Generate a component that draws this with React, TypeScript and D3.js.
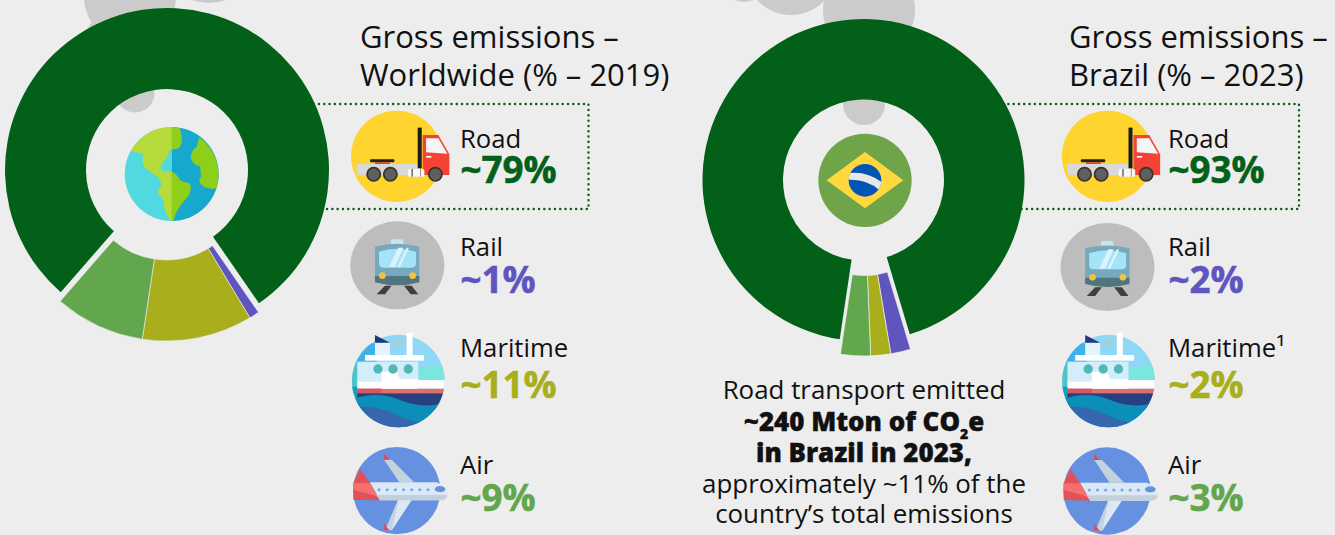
import React from 'react';
import * as d3 from 'd3';

const categories = ['Road', 'Rail', 'Maritime', 'Air'];
const worldValues = [79, 1, 11, 9];
const brazilValues = [93, 2, 2, 3];
const worldLabels = ['~79%', '~1%', '~11%', '~9%'];
const brazilLabels = ['~93%', '~2%', '~2%', '~3%'];
const colors = ['#036019', '#5E55BF', '#A9AF1C', '#62A64D'];
const rowBaselines = [148, 256, 357, 474];
const valueBaselines = [182.5, 292.5, 397.5, 511];
const note = ['Road transport emitted', 'approximately ~11% of the', 'country’s total emissions'];

const BG = '#EDEDED';
const FONT = '"Open Sans", sans-serif';
const SMOKE = '#CBCBCB';

// icons are drawn in 3x units, centred on 0,0
const Icon = ({ x, y, children }: any) => (
  <g transform={`translate(${x},${y}) scale(${1 / 3})`}>{children}</g>
);

const Truck = ({ x, y }: any) => (
  <Icon x={x} y={y}>
    <g transform="translate(-170,-184)">
      <circle cx={170} cy={184} r={137} fill="#FFD42E" />
      <rect x={50} y={207} width={190} height={33} fill="#D9D9D9" />
      <rect x={90} y={193} width={73} height={9} rx={3} fill="#222" />
      <rect x={105} y={202} width={45} height={5} fill="#E53935" />
      <rect x={233} y={98} width={12} height={122} fill="#1C1C1C" />
      <path d="M248,120H295L328,178V240H248Z" fill="#F44336" />
      <path d="M258,130H295L322,176L258,172Z" fill="#F5F5F5" />
      <rect x={258} y={183} width={16} height={5} fill="#F5F5F5" />
      <rect x={204} y={222} width={49} height={23} rx={5} fill="#F7F7F7" />
      <rect x={214} y={222} width={5} height={23} fill="#777" />
      <rect x={240} y={222} width={3} height={23} fill="#999" />
      {[101, 151, 286].map(cx => (
        <circle key={cx} cx={cx} cy={238} r={20} fill="#5F5F5F" stroke="#3A3424" strokeWidth={5} />
      ))}
    </g>
  </Icon>
);

const Train = ({ x, y }: any) => (
  <Icon x={x} y={y}>
    <g transform="translate(-172,-511)">
      <ellipse cx={172} cy={511} rx={141} ry={132} fill="#BDBDBD" />
      <path d="M135,572H155L135,598H110Z" fill="#3F3F3F" />
      <path d="M192,572H215L235,598H212Z" fill="#3F3F3F" />
      <rect x={152} y={433} width={38} height={16} rx={6} fill="#C7E3EE" />
      <path d="M105,455Q172,438 238,455V560Q172,580 105,560Z" fill="#78A8BE" />
      <path d="M105,543H238V562Q172,580 105,562Z" fill="#50757F" />
      <path d="M117,470Q172,452 228,470V505Q228,518 215,518H130Q117,518 117,505Z" fill="#A5E3F8" />
      <path d="M147,516L175,458H190L165,516Z" fill="#DDF3FB" />
      <path d="M172,516L200,458H207L180,516Z" fill="#DDF3FB" />
      <circle cx={127} cy={542} r={10} fill="#F4C23C" />
      <circle cx={218} cy={542} r={10} fill="#F4C23C" />
    </g>
  </Icon>
);

const Ship = ({ x, y, id }: any) => (
  <Icon x={x} y={y}>
    <g transform="translate(-175,-183)">
      <clipPath id={id}>
        <circle cx={175} cy={183} r={139} />
      </clipPath>
      <g clipPath={`url(#${id})`}>
        <rect x={30} y={40} width={290} height={290} fill="#8FD7F7" />
        <path d="M30,130V70L110,70V130Z" fill="#3FB2EA" />
        <path d="M235,145L320,130V185H235Z" fill="#7BE6DF" />
        <path d="M30,130H80V240H30Z" fill="#4CC4C8" />
        <path d="M30,200H60V260H30Z" fill="#1A9CC4" />
        <path d="M52,180H320V206H52Z" fill="#FFFFFF" />
        <path d="M52,206H320V220H52Z" fill="#E2706A" />
        <path d="M52,206H125V220H52Z" fill="#D95560" />
        <path d="M52,220H320V270H52Z" fill="#27407F" />
        <path d="M30,240Q110,210 180,240T320,245V330H30Z" fill="#0B8FB8" />
        <path d="M30,265Q100,250 170,285T320,305V330H30Z" fill="#3566AE" />
      </g>
      <rect x={52} y={125} width={183} height={60} fill="#D3EEFB" />
      <path d="M125,155H170L180,178H235V206H125Z" fill="#FFFFFF" />
      <rect x={75} y={105} width={177} height={17} fill="#FFFFFF" />
      <rect x={105} y={68} width={45} height={37} fill="#E3F4FC" />
      <path d="M105,45L150,68H105Z" fill="#22387A" />
      <path d="M150,78L218,48" stroke="#D9C07E" strokeWidth={4} />
      <rect x={200} y={38} width={18} height={67} fill="#FFFFFF" />
      {[114, 159, 205].map(cx => (
        <circle key={cx} cx={cx} cy={147} r={14} fill="#55B6B8" />
      ))}
    </g>
  </Icon>
);

const Plane = ({ x, y }: any) => (
  <Icon x={x} y={y}>
    <g transform="translate(-170,-513)">
      <circle cx={170} cy={513} r={131} fill="#6690E0" />
      <path d="M132,420H155L222,488H178Z" fill="#C5D2DE" />
      <path d="M132,402L148,420H132Z" fill="#E04A55" />
      <path d="M135,632H155L222,530H178Z" fill="#C5D2DE" />
      <path d="M178,530H222L155,632Z" fill="#DCE8F4" />
      <path d="M132,612L148,632H132Z" fill="#E04A55" />
      <path d="M60,447L40,490V540L120,542L90,490Z" fill="#E2505A" />
      <path d="M40,490H92L112,530L40,510Z" fill="#F66F6F" />
      <path d="M90,488H290Q322,500 322,530Q320,542 300,542H120Z" fill="#DCE8F4" />
      <path d="M108,526H322Q320,542 300,542H120Z" fill="#C3D0DC" />
      <ellipse cx={300} cy={508} rx={16} ry={9} fill="#6690E0" />
      {d3.range(7).map(i => (
        <circle key={i} cx={117 + i * 24.5} cy={510} r={4.5} fill="#6FA5F0" />
      ))}
    </g>
  </Icon>
);

const Globe = ({ x, y }: any) => (
  <Icon x={x} y={y}>
    <g transform="translate(-515,-522)">
      <path d="M515,381A141,141 0 0 0 515,663Z" fill="#52D9E0" />
      <path d="M515,381A141,141 0 0 1 515,663Z" fill="#17A9CD" />
      <path
        d="M392,452Q440,380 515,381V450H508Q505,475 485,490Q480,510 485,513L515,515V663Q490,640 490,600L472,575L485,555Q480,530 450,515Q420,500 430,462Z"
        fill="#B5DC3A"
      />
      <path d="M515,515Q530,520 540,540Q555,550 570,550Q578,580 555,600Q530,625 520,663H515Z" fill="#8ECF1B" />
      <path d="M515,381L538,384Q555,425 535,445L515,450Z" fill="#8ECF1B" />
      <path
        d="M598,412A141,141 0 0 1 650,565Q615,570 600,550Q595,540 603,530L600,498Q575,495 572,470Q575,450 590,440Z"
        fill="#8ECF1B"
      />
    </g>
  </Icon>
);

const Flag = ({ x, y, id }: any) => (
  <Icon x={x} y={y}>
    <g transform="translate(-525,-541)">
      <circle cx={525} cy={541} r={140} fill="#6FA548" />
      <path d="M410,541L525,456L640,541L525,625Z" fill="#FFD83F" />
      <clipPath id={id}>
        <circle cx={525} cy={541} r={49} />
      </clipPath>
      <circle cx={525} cy={541} r={49} fill="#0055B5" />
      <path
        clipPath={`url(#${id})`}
        d="M470,520Q530,510 580,550L570,572Q530,535 470,540Z"
        fill="#E8E8E8"
      />
    </g>
  </Icon>
);

const Donut = ({ cx, cy, r, r0, values, start, dx, dy, sep }: any) => {
  const pie = d3.pie<number>().sort(null).startAngle(start).endAngle(start + 2 * Math.PI);
  const arc = d3.arc<d3.PieArcDatum<number>>().innerRadius(r0).outerRadius(r);
  const slices = pie(values);
  return (
    <g transform={`translate(${cx},${cy})`}>
      <path d={arc(slices[0]) as string} fill={colors[0]} />
      <g transform={`translate(${dx},${dy})`}>
        {slices.slice(1).map((s, i) => (
          <path key={i} d={arc(s) as string} fill={colors[i + 1]} stroke={sep} strokeWidth={0.6} />
        ))}
      </g>
    </g>
  );
};

const Rows = ({ x, labels, names }: any) => (
  <g fontFamily={FONT}>
    {names.map((name: string, i: number) => (
      <g key={name}>
        <text x={x} y={rowBaselines[i]} fontSize={25.7} fill="#111">
          {name}
        </text>
        <text
          x={x + 0.5}
          y={valueBaselines[i]}
          fontSize={36.8}
          fontWeight={700}
          fill={colors[i]}
          stroke={colors[i]}
          strokeWidth={0.5}
        >
          {labels[i]}
        </text>
      </g>
    ))}
  </g>
);

const Smoke = ({ items }: any) => (
  <g fill={SMOKE}>
    {items.map((c: number[], i: number) => (
      <circle key={i} cx={c[0]} cy={c[1]} r={c[2]} />
    ))}
  </g>
);

const DottedBox = ({ x0, x1 }: any) => (
  <path
    d={`M${x0},104H${x1}V209H${x0}`}
    fill="none"
    stroke={colors[0]}
    strokeWidth={2.4}
    strokeLinecap="round"
    strokeDasharray="0.1 5.2"
  />
);

export default function App() {
  return (
    <>
      <style>{`body{margin:0;background:${BG}}svg{display:block}`}</style>
      <svg width={1335} height={535} style={{ background: BG }}>
        <Smoke items={[[130, -3, 46], [115, 37, 28], [209, -49, 52], [135, 93, 19.5]]} />
        <Smoke items={[[744, -20, 22], [791, -31, 46], [869, 10, 46], [864, 104, 21]]} />
        <DottedBox x0={250} x1={588.5} />
        <DottedBox x0={950} x1={1299} />

        <Donut
          cx={167}
          cy={170}
          r={162}
          r0={81}
          values={worldValues}
          start={(-139 * Math.PI) / 180}
          dx={-0.5}
          dy={9}
          sep={BG}
        />
        <Donut
          cx={863.5}
          cy={180}
          r={161}
          r0={80.5}
          values={brazilValues}
          start={(-171.5 * Math.PI) / 180}
          dx={0.7}
          dy={15}
          sep="#F7F7F7"
        />
        <Globe x={171.7} y={174} />
        <Flag x={865} y={180.3} id="flag-clip" />

        <g fontFamily={FONT} fontSize={31} fill="#111">
          <text x={360} y={48}>Gross emissions –</text>
          <text x={360} y={86}>Worldwide (% – 2019)</text>
          <text x={1069} y={48}>Gross emissions –</text>
          <text x={1069} y={86}>Brazil (% – 2023)</text>
        </g>

        <Truck x={396.7} y={156.3} />
        <Train x={397.3} y={265.3} />
        <Ship x={398.3} y={381} id="ship-a" />
        <Plane x={396.7} y={490.7} />
        <Rows x={460} labels={worldLabels} names={categories} />

        <Truck x={1107.5} y={156.3} />
        <Train x={1107.5} y={267} />
        <Ship x={1108.5} y={381} id="ship-b" />
        <Plane x={1107} y={491} />
        <Rows x={1168} labels={brazilLabels} names={['Road', 'Rail', 'Maritime¹', 'Air']} />

        <g fontFamily={FONT} fontSize={25.9} fill="#111" textAnchor="middle">
          <text x={864} y={399}>{note[0]}</text>
          <text x={864} y={431} fontWeight={800} stroke="#111" strokeWidth={0.4}>
            ~240 Mton of CO
            <tspan fontSize={14} dy={8}>2</tspan>
            <tspan dy={-8}>e</tspan>
          </text>
          <text x={864} y={462} fontWeight={800} stroke="#111" strokeWidth={0.4}>in Brazil in 2023,</text>
          <text x={864} y={493}>{note[1]}</text>
          <text x={864} y={523}>{note[2]}</text>
        </g>
      </svg>
    </>
  );
}
